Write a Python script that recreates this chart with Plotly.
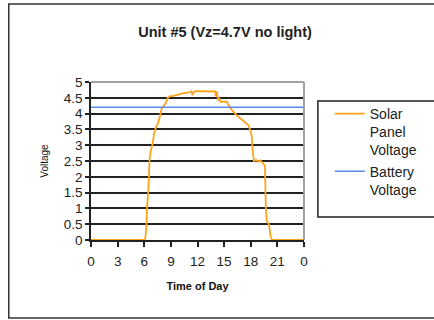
import plotly.graph_objects as go

# Solar panel output over one day (hours, volts)
hours = [0, 6.1, 6.25, 6.3, 6.45, 6.55, 6.6, 6.75, 6.95, 7.1, 7.2, 7.35, 7.5, 7.6,
         7.75, 7.95, 8.1, 8.3, 8.45, 8.6, 8.9, 9.3, 9.8, 10.3, 10.9, 11.3, 11.45,
         11.6, 11.9, 13.0, 14.0, 14.05, 14.2, 14.3, 14.45, 14.6, 15.0, 15.3, 15.5,
         15.9, 16.4, 16.8, 17.4, 17.75, 17.95, 18.1, 18.2, 18.35, 18.6, 18.9, 19.1,
         19.4, 19.6, 19.7, 19.8, 20.05, 20.25, 20.4, 24]
solar_v = [0, 0, 0.45, 1.0, 1.5, 2.0, 2.55, 2.85, 3.05, 3.35, 3.45, 3.6, 3.65, 3.8,
           3.9, 4.15, 4.2, 4.3, 4.35, 4.48, 4.55, 4.56, 4.6, 4.64, 4.66, 4.7, 4.58,
           4.7, 4.71, 4.71, 4.7, 4.55, 4.7, 4.42, 4.5, 4.37, 4.37, 4.38, 4.27,
           4.1, 3.95, 3.85, 3.73, 3.63, 3.47, 3.31, 2.9, 2.5, 2.53, 2.48, 2.52,
           2.4, 2.35, 1.0, 0.6, 0.5, 0.1, 0, 0]

# Battery held at a constant level all day
battery_hours = [0, 24]
battery_v = [4.2, 4.2]

x_ticks = [0, 3, 6, 9, 12, 15, 18, 21, 24]
x_labels = ["0", "3", "6", "9", "12", "15", "18", "21", "0"]
y_ticks = [0, 0.5, 1, 1.5, 2, 2.5, 3, 3.5, 4, 4.5, 5]
y_labels = ["0", "0.5", "1", "1.5", "2", "2.5", "3", "3.5", "4", "4.5", "5"]

FONT = "Liberation Sans, Arial, sans-serif"

fig = go.Figure()
fig.add_trace(go.Scatter(
    x=hours, y=solar_v, mode="lines", name="Solar<br>Panel<br>Voltage",
    line=dict(color="#FFA31A", width=1.8), cliponaxis=False,
))
fig.add_trace(go.Scatter(
    x=battery_hours, y=battery_v, mode="lines", name="Battery<br>Voltage",
    line=dict(color="#5A8AF0", width=1.5),
))

fig.update_layout(
    width=434, height=320,
    margin=dict(l=91, r=128, t=82, b=80),
    paper_bgcolor="white", plot_bgcolor="white",
    font=dict(family=FONT, color="#222222"),
    title=dict(text="<b>Unit #5 (Vz=4.7V no light)</b>", x=225 / 434, xanchor="center",
               y=1 - 32 / 320, yanchor="middle", font=dict(size=14.5, color="#222222")),
    showlegend=True,
    legend=dict(x=(332 - 91) / 215, xanchor="left", y=(240 - 98) / 158, yanchor="top",
                bgcolor="rgba(0,0,0,0)", borderwidth=0,
                font=dict(size=14, color="#222222"), valign="top",
                tracegroupgap=0, itemwidth=30),
    xaxis=dict(range=[0, 24], tickvals=x_ticks, ticktext=x_labels,
               showgrid=False, zeroline=False, showline=True, linecolor="#222222",
               linewidth=1.5, ticks="outside", ticklen=5, tickcolor="#222222",
               tickwidth=1.5, tickfont=dict(size=13.5, color="#222222"),
               ticklabelstandoff=3,
               title=dict(text="<b>Time of Day</b>", font=dict(size=11, color="#111111"),
                          standoff=14)),
    yaxis=dict(range=[0, 5], tickvals=y_ticks, ticktext=y_labels,
               showgrid=True, gridcolor="#222222", gridwidth=1.5,
               zeroline=False, showline=True, linecolor="#222222", linewidth=1.5,
               ticks="outside", ticklen=4, tickcolor="#222222", tickwidth=1.5,
               tickfont=dict(size=13.5, color="#222222"),
               title=dict(text="Voltage", font=dict(size=10, color="#111111"),
                          standoff=13)),
    shapes=[
        # plot-area frame (top and right edges, grey)
        dict(type="line", xref="paper", yref="paper", x0=0, x1=1, y0=1, y1=1,
             line=dict(color="#A0A0A0", width=2), layer="above"),
        dict(type="line", xref="paper", yref="paper", x0=1, x1=1, y0=0, y1=1,
             line=dict(color="#A0A0A0", width=2), layer="above"),
        # legend box
        dict(type="rect", xref="paper", yref="paper",
             x0=(320 - 91) / 215, x1=(440 - 91) / 215,
             y0=(240 - 217) / 158, y1=(240 - 101) / 158,
             line=dict(color="#222222", width=1.5), layer="below"),
        # chart-area border
        dict(type="rect", xref="paper", yref="paper",
             x0=(8 - 91) / 215, x1=(440 - 91) / 215,
             y0=(240 - 318) / 158, y1=(240 - 4) / 158,
             line=dict(color="#333333", width=1.5), layer="below"),
    ],
)

fig.write_html("out.html")
